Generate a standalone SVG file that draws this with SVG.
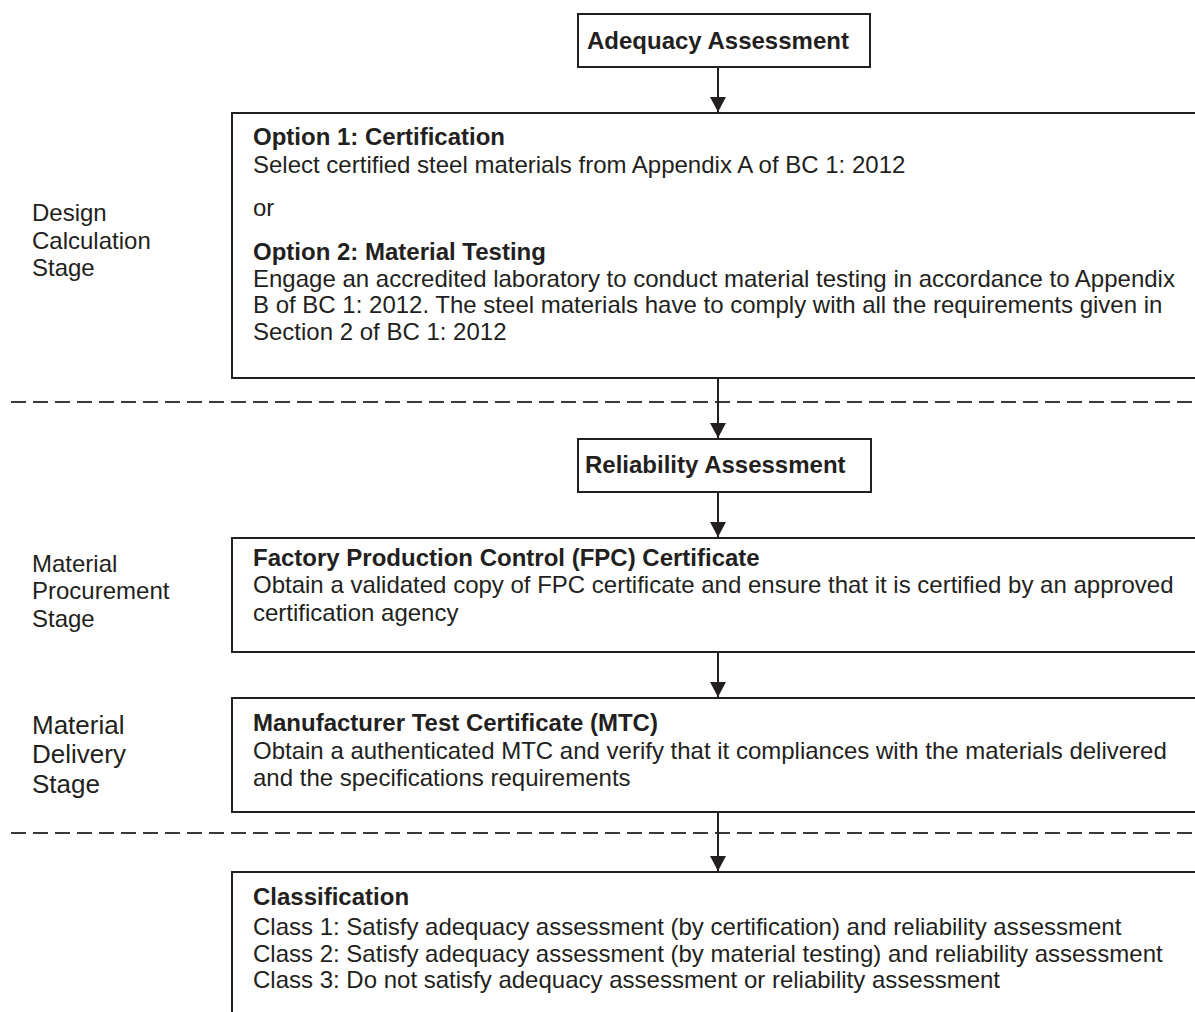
<svg xmlns="http://www.w3.org/2000/svg" width="1195" height="1012" viewBox="0 0 1195 1012">
<defs>
<marker id="arr" viewBox="0 0 15 16" refX="15" refY="8" markerWidth="15" markerHeight="16" markerUnits="userSpaceOnUse" orient="auto">
<path d="M0,0 L15,8 L0,16 Z" fill="#231f20"/>
</marker>
<style>
.box{fill:#fff;stroke:#231f20;stroke-width:2}
.t{font-family:"Liberation Sans",Arial,sans-serif;font-size:24px;fill:#231f20}
.b{font-weight:bold}
.lbl{font-family:"Liberation Sans",Arial,sans-serif;font-size:24px;fill:#231f20}
.lbl2{font-family:"Liberation Sans",Arial,sans-serif;font-size:26px;fill:#231f20}
.con{stroke:#231f20;stroke-width:2;fill:none}
.dash{stroke:#3a3a3a;stroke-width:2;stroke-dasharray:15 7;fill:none}
</style>
</defs>
<rect width="1195" height="1012" fill="#fff"/>

<g id="separators">
<line class="dash" x1="11" y1="402" x2="1195" y2="402"/>
<line class="dash" x1="11" y1="833" x2="1195" y2="833"/>
</g>

<g id="stage-design">
<text class="lbl" x="32" y="221">Design</text>
<text class="lbl" x="32" y="249">Calculation</text>
<text class="lbl" x="32" y="276">Stage</text>
</g>
<g id="stage-procurement">
<text class="lbl" x="32" y="572">Material</text>
<text class="lbl" x="32" y="599">Procurement</text>
<text class="lbl" x="32" y="627">Stage</text>
</g>
<g id="stage-delivery">
<text class="lbl2" x="32" y="734">Material</text>
<text class="lbl2" x="32" y="763">Delivery</text>
<text class="lbl2" x="32" y="793">Stage</text>
</g>

<g id="adequacy">
<rect class="box" x="578" y="14" width="292" height="53"/>
<text class="t b" x="587" y="49">Adequacy Assessment</text>
</g>

<g id="options">
<rect class="box" x="232" y="113" width="980" height="265"/>
<text class="t b" x="253" y="145">Option 1: Certification</text>
<text class="t" x="253" y="173">Select certified steel materials from Appendix A of BC 1: 2012</text>
<text class="t" x="253" y="216">or</text>
<text class="t b" x="253" y="260">Option 2: Material Testing</text>
<text class="t" x="253" y="287">Engage an accredited laboratory to conduct material testing in accordance to Appendix</text>
<text class="t" x="253" y="313">B of BC 1: 2012. The steel materials have to comply with all the requirements given in</text>
<text class="t" x="253" y="340">Section 2 of BC 1: 2012</text>
</g>

<g id="reliability">
<rect class="box" x="578" y="439" width="293" height="53"/>
<text class="t b" x="585" y="473">Reliability Assessment</text>
</g>

<g id="fpc">
<rect class="box" x="232" y="538" width="980" height="114"/>
<text class="t b" x="253" y="566">Factory Production Control (FPC) Certificate</text>
<text class="t" x="253" y="593">Obtain a validated copy of FPC certificate and ensure that it is certified by an approved</text>
<text class="t" x="253" y="621">certification agency</text>
</g>

<g id="mtc">
<rect class="box" x="232" y="698" width="980" height="114"/>
<text class="t b" x="253" y="731">Manufacturer Test Certificate (MTC)</text>
<text class="t" x="253" y="759">Obtain a authenticated MTC and verify that it compliances with the materials delivered</text>
<text class="t" x="253" y="786">and the specifications requirements</text>
</g>

<g id="classification">
<rect class="box" x="232" y="872" width="980" height="160"/>
<text class="t b" x="253" y="905">Classification</text>
<text class="t" x="253" y="935">Class 1: Satisfy adequacy assessment (by certification) and reliability assessment</text>
<text class="t" x="253" y="962">Class 2: Satisfy adequacy assessment (by material testing) and reliability assessment</text>
<text class="t" x="253" y="988">Class 3: Do not satisfy adequacy assessment or reliability assessment</text>
</g>

<g id="connectors">
<line class="con" x1="718" y1="67" x2="718" y2="112" marker-end="url(#arr)"/>
<line class="con" x1="718" y1="378" x2="718" y2="438" marker-end="url(#arr)"/>
<line class="con" x1="718" y1="492" x2="718" y2="537" marker-end="url(#arr)"/>
<line class="con" x1="718" y1="652" x2="718" y2="697" marker-end="url(#arr)"/>
<line class="con" x1="718" y1="812" x2="718" y2="871" marker-end="url(#arr)"/>
</g>
</svg>
